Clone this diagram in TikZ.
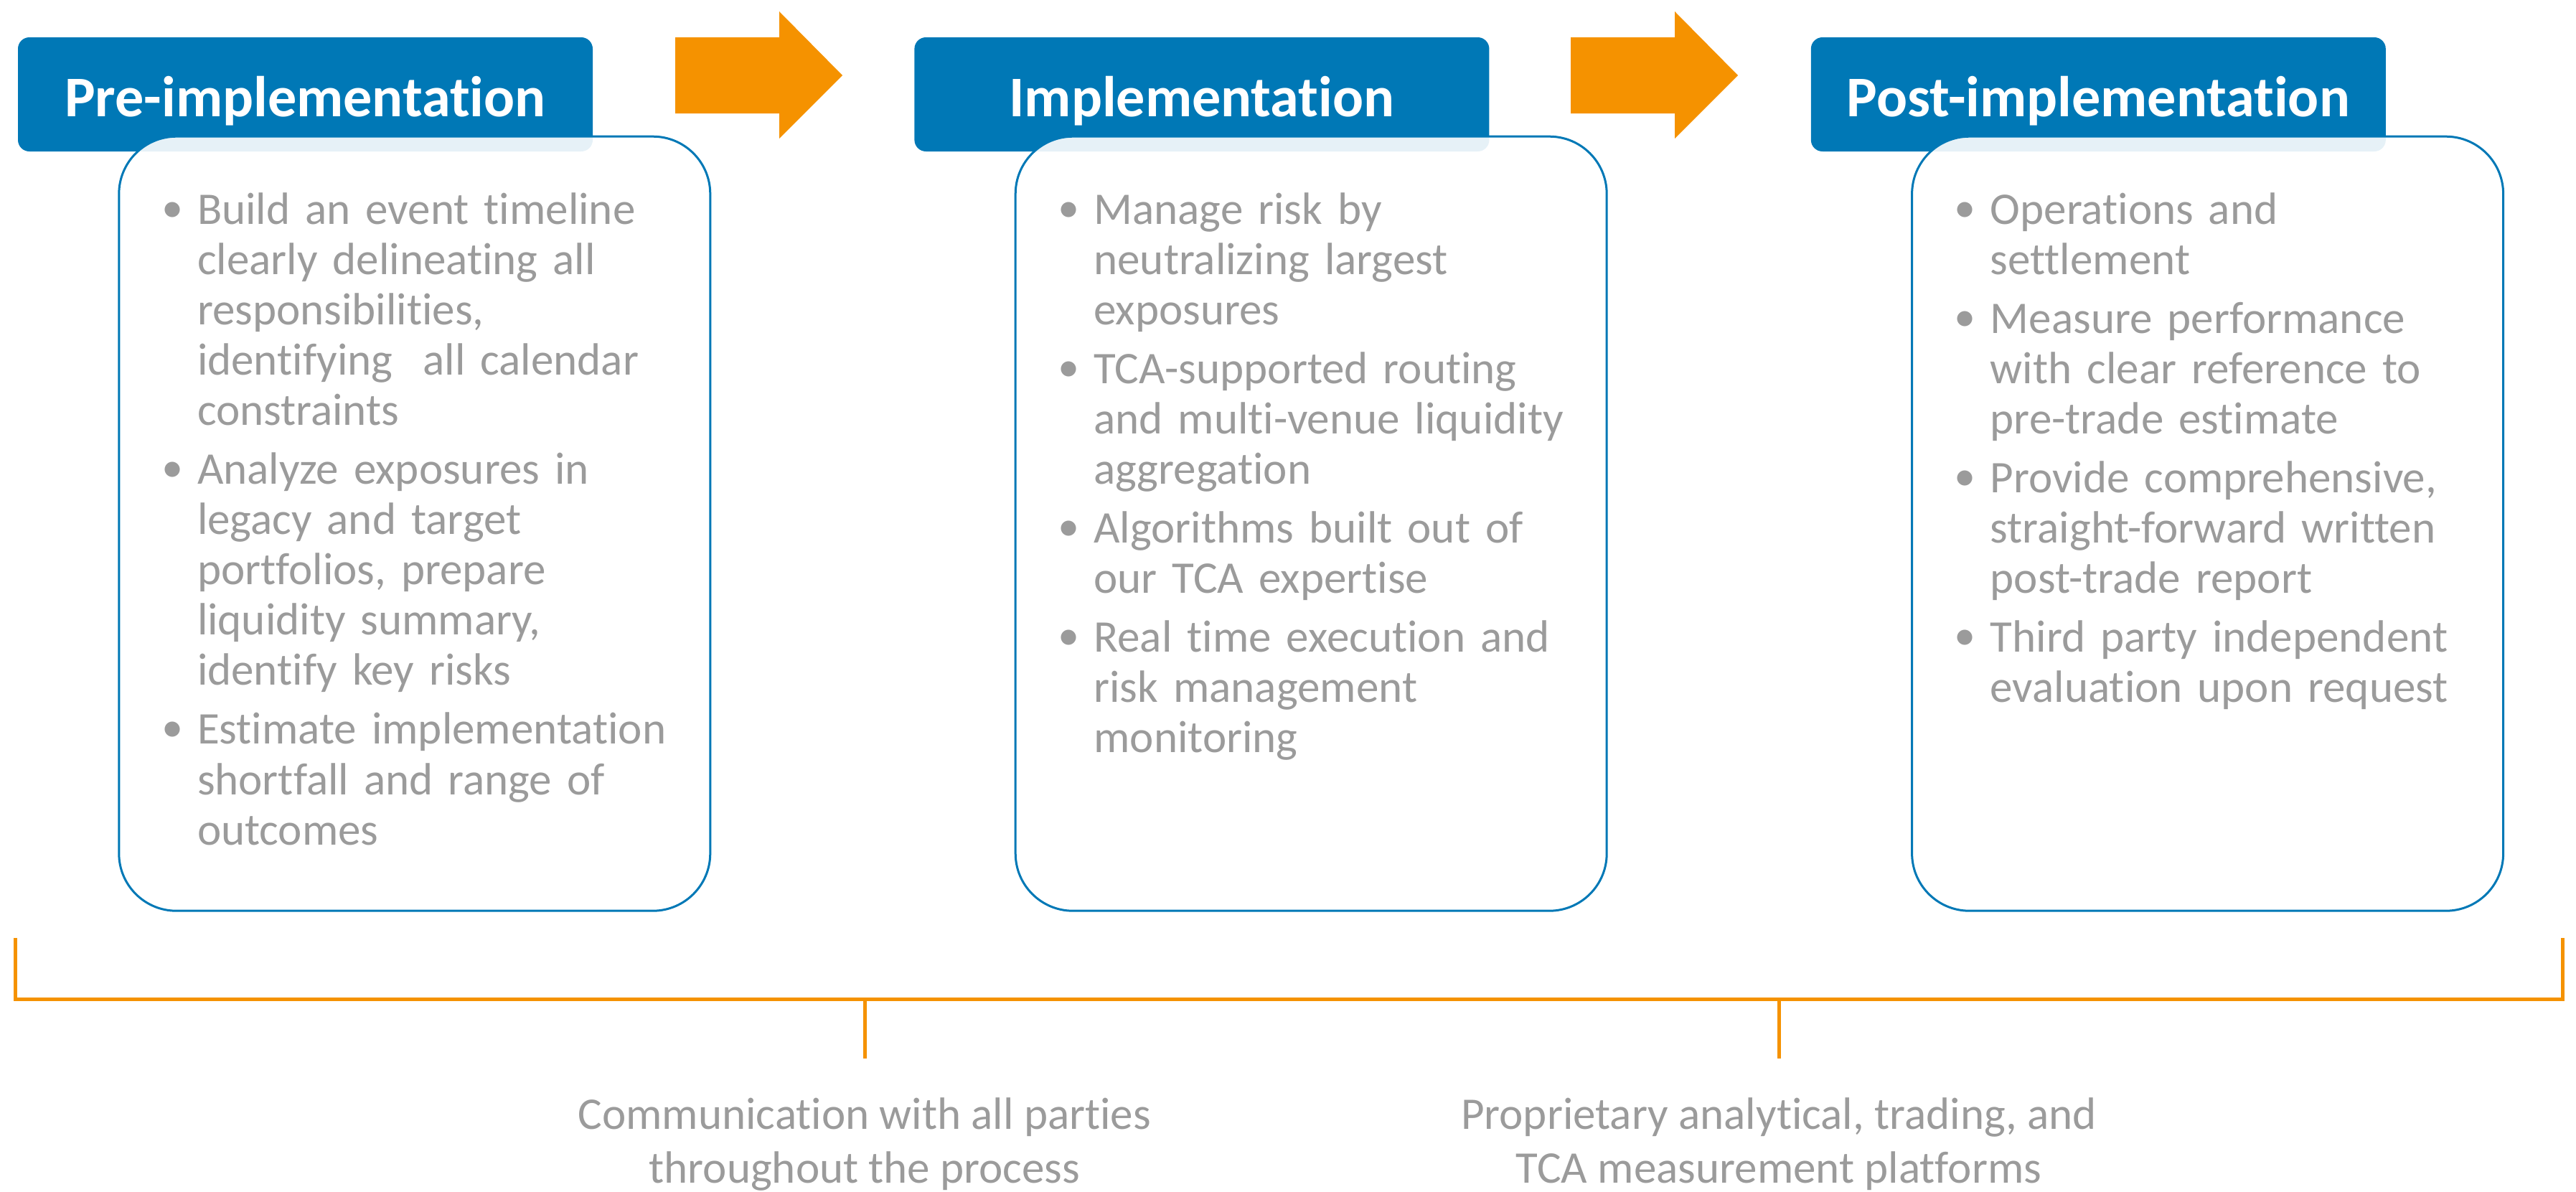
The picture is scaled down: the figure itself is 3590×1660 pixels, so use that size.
\documentclass[tikz,border=0pt]{standalone}
\usepackage{fontspec}
\setmainfont{Carlito}[Ligatures=NoCommon]
\usepackage{tikz}
\usetikzlibrary{positioning,calc}
\definecolor{phaseblue}{HTML}{0078B6}
\definecolor{floworange}{HTML}{F59200}
\definecolor{notegray}{HTML}{9B9B9B}
\newlength{\px}
\setlength{\px}{0.01cm}
\newcommand{\dotmark}{{\setlength{\unitlength}{\px}\begin{picture}(45,0)\put(10,20){\circle*{20}}\end{picture}}}
\newcommand{\bitem}[1]{\par\hangindent=45\px\hangafter=1\noindent\dotmark\strut#1\par}
\tikzstyle{phasehead}=[fill=phaseblue,rounded corners=16\px,minimum width=801\px,minimum height=159\px,inner sep=0pt,text=white,text height=61\px,text depth=0pt,font=\bfseries\fontsize{22.8pt}{28pt}\selectfont]
\tikzstyle{phasebox}=[draw=phaseblue,line width=3\px,fill=white,fill opacity=0.9,rounded corners=80\px,minimum width=824\px,minimum height=1079\px,inner sep=0pt,anchor=north west]
\tikzstyle{phasetext}=[anchor=north west,inner sep=0pt,text=notegray,text width=900\px,font=\fontsize{17.93pt}{19.92pt}\selectfont\setlength{\parskip}{12\px}]
\tikzstyle{notetext}=[anchor=north,inner sep=0pt,text=notegray,align=center,font=\fontsize{17.93pt}{21.3pt}\selectfont]
\tikzstyle{bracket}=[draw=floworange,line width=5\px]

\begin{document}
\begin{tikzpicture}[x=0.01cm,y=-0.01cm]
		\useasboundingbox (0,0) rectangle (3590,1660);
		\node[phasehead] (pre) at (425.5,131.5) {Pre-implementation};
		\node[phasehead,right=447\px of pre] (impl) {Implementation};
		\node[phasehead,right=447\px of impl] (post) {Post-implementation};
		
		\foreach \dx in {0,1248} {
			\fill[floworange] (941+\dx,52) -- (1086+\dx,52) -- (1086+\dx,16) -- (1174+\dx,105)
				-- (1086+\dx,193) -- (1086+\dx,158) -- (941+\dx,158) -- cycle;
		}
		
		\node[phasebox] (prebox) at ([shift={(140,-23)}]pre.south west) {};
		\node[phasebox] (implbox) at ([shift={(140,-23)}]impl.south west) {};
		\node[phasebox] (postbox) at ([shift={(140,-23)}]post.south west) {};
		
		\node[phasetext] (pretext) at ([shift={(65,41)}]prebox.north west) {%
			\bitem{Build an event timeline\newline clearly delineating all\newline responsibilities,\newline identifying~ all calendar\newline constraints}%
			\bitem{Analyze exposures in\newline legacy and target\newline portfolios, prepare\newline liquidity summary,\newline identify key risks}%
			\bitem{Estimate implementation\newline shortfall and range of\newline outcomes}};
		\node[phasetext] (impltext) at ([shift={(65,41)}]implbox.north west) {%
			\bitem{Manage risk by\newline neutralizing largest\newline exposures}%
			\bitem{TCA-supported routing\newline and multi-venue liquidity\newline aggregation}%
			\bitem{Algorithms built out of\newline our TCA expertise}%
			\bitem{Real time execution and\newline risk management\newline monitoring}};
		\node[phasetext] (posttext) at ([shift={(65,41)}]postbox.north west) {%
			\bitem{Operations and\newline settlement}%
			\bitem{Measure performance\newline with clear reference to\newline pre-trade estimate}%
			\bitem{Provide comprehensive,\newline straight-forward written\newline post-trade report}%
			\bitem{Third party independent\newline evaluation upon request}};
		
		\coordinate (bl) at (21,1307);
		\coordinate (br) at (3571,1307);
		\coordinate (tick1) at (1205,1392);
		\coordinate (tick2) at (2479,1392);
		\draw[bracket] (bl) -- (bl |- tick1) -- (br |- tick1) -- (br);
		
		\node[notetext] (note1) at (1205,1520) {\strut Communication with all parties\\throughout the process};
		\node[notetext] (note2) at (2479,1520) {\strut Proprietary analytical, trading, and\\TCA measurement platforms};
		\draw[bracket] (tick1) -- ([yshift=45\px]note1.north);
		\draw[bracket] (tick2) -- ([yshift=45\px]note2.north);
		\end{tikzpicture}
\end{document}
